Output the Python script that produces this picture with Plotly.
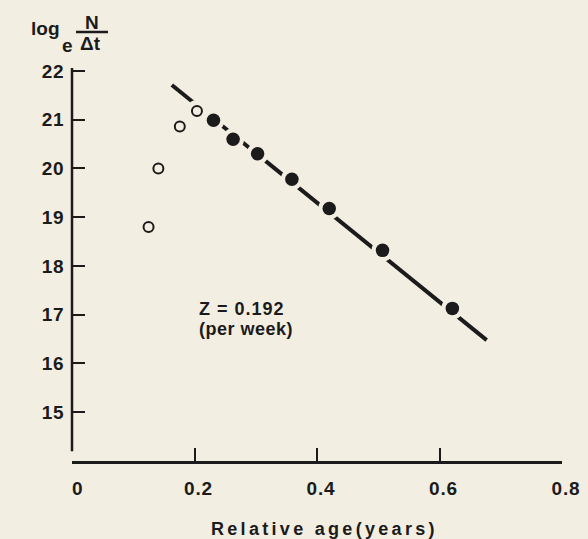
import plotly.graph_objects as go

# ---- data ----
open_age = [0.125, 0.141, 0.176, 0.204]
open_logN = [18.80, 20.00, 20.86, 21.18]
closed_age = [0.231, 0.263, 0.303, 0.359, 0.420, 0.507, 0.621]
closed_logN = [20.99, 20.60, 20.30, 19.78, 19.18, 18.32, 17.13]
fit_age = [0.163, 0.677]
fit_logN = [21.71, 16.48]
x_ticks = [0.2, 0.4, 0.6, 0.8]
x_ticklabels = ["0.2", "0.4", "0.6", "0.8"]
y_ticks = [15, 16, 17, 18, 19, 20, 21, 22]
y_ticklabels = ["15", "16", "17", "18", "19", "20", "21", "22"]

BG = "#f3eee2"
INK = "#1b1b1b"
FONT = "Liberation Sans"

W, H = 588, 539
L, R, T, B = 72, 26, 68, 78
YR = [14.0, 22.06]
XR = [0.0, 0.8]
pw, ph = W - L - R, H - T - B


def px_x(px):
    return (px - L) / pw


def px_y(py):
    return (H - B - py) / ph


def spaced(s, sp):
    return '<span style="letter-spacing:%spx">%s</span>' % (sp, s)


fig = go.Figure()
# fitted line
fig.add_trace(go.Scatter(x=fit_age, y=fit_logN, mode="lines",
                         line=dict(color=INK, width=4), hoverinfo="skip"))
# halo (gap in the line around each point)
fig.add_trace(go.Scatter(x=closed_age + open_age, y=closed_logN + open_logN,
                         mode="markers", marker=dict(color=BG, size=22, line=dict(width=0)),
                         hoverinfo="skip"))
fig.add_trace(go.Scatter(x=closed_age, y=closed_logN, mode="markers",
                         marker=dict(color=INK, size=13.5, line=dict(width=0))))
fig.add_trace(go.Scatter(x=open_age, y=open_logN, mode="markers",
                         marker=dict(color=BG, size=10, line=dict(color=INK, width=2))))

tf = dict(family=FONT, size=19, color=INK, weight="bold")

fig.update_layout(
    width=W, height=H, margin=dict(l=L, r=R, t=T, b=B, autoexpand=False),
    paper_bgcolor=BG, plot_bgcolor=BG, showlegend=False,
    xaxis=dict(range=XR, showgrid=False, zeroline=False, showline=True,
               linecolor=INK, linewidth=2.5, ticks="inside", ticklen=13,
               tickwidth=2, tickcolor=INK, tickvals=x_ticks,
               ticktext=[spaced(t, 0.8) for t in x_ticklabels],
               tickfont=tf, ticklabelstandoff=8, ticklabelshift=4,
               automargin=False),
    yaxis=dict(range=YR, showgrid=False, zeroline=False, showline=False,
               ticks="inside", ticklen=13, tickwidth=2, tickcolor=INK,
               tickvals=y_ticks, ticktext=[spaced(t, 0.5) for t in y_ticklabels],
               tickfont=tf, ticklabelstandoff=7, automargin=False),
)

# y axis line stopping short of the x axis
fig.add_shape(type="line", xref="paper", yref="paper", x0=0, x1=0,
              y0=(14.2 - YR[0]) / (YR[1] - YR[0]), y1=1,
              line=dict(color=INK, width=2.5))

# "0" label at origin
fig.add_annotation(text="0", xref="paper", yref="paper", x=px_x(77), y=px_y(488),
                   showarrow=False, font=tf, xanchor="center", yanchor="middle")

# x axis title
fig.add_annotation(text=spaced("Relative age(years)", 3.3),
                   xref="paper", yref="paper", x=px_x(324), y=px_y(529),
                   showarrow=False, font=dict(family=FONT, size=18, color=INK, weight="bold"),
                   xanchor="center", yanchor="middle")

# y axis title: log_e N/Δt
yt = dict(family=FONT, size=19, color=INK, weight="bold")
fig.add_annotation(text="log", xref="paper", yref="paper", x=px_x(45.5), y=px_y(29),
                   showarrow=False, font=yt, xanchor="center", yanchor="middle")
fig.add_annotation(text="e", xref="paper", yref="paper", x=px_x(67.5), y=px_y(45),
                   showarrow=False, font=yt, xanchor="center", yanchor="middle")
fig.add_annotation(text="N", xref="paper", yref="paper", x=px_x(92), y=px_y(23),
                   showarrow=False, font=yt, xanchor="center", yanchor="middle")
fig.add_annotation(text="Δt", xref="paper", yref="paper", x=px_x(90), y=px_y(44),
                   showarrow=False, font=yt, xanchor="center", yanchor="middle")
fig.add_shape(type="line", xref="paper", yref="paper", x0=px_x(76), x1=px_x(108),
              y0=px_y(32), y1=px_y(32), line=dict(color=INK, width=2.5))

# Z annotation
zf = dict(family=FONT, size=18, color=INK, weight="bold")
fig.add_annotation(text=spaced("Z = 0.192", 1),
                   xref="paper", yref="paper", x=px_x(197), y=px_y(308.5),
                   showarrow=False, font=zf, xanchor="left", yanchor="middle")
fig.add_annotation(text=spaced("(per week)", 0.5),
                   xref="paper", yref="paper", x=px_x(197), y=px_y(328.5),
                   showarrow=False, font=zf, xanchor="left", yanchor="middle")

fig.write_html("out.html")
